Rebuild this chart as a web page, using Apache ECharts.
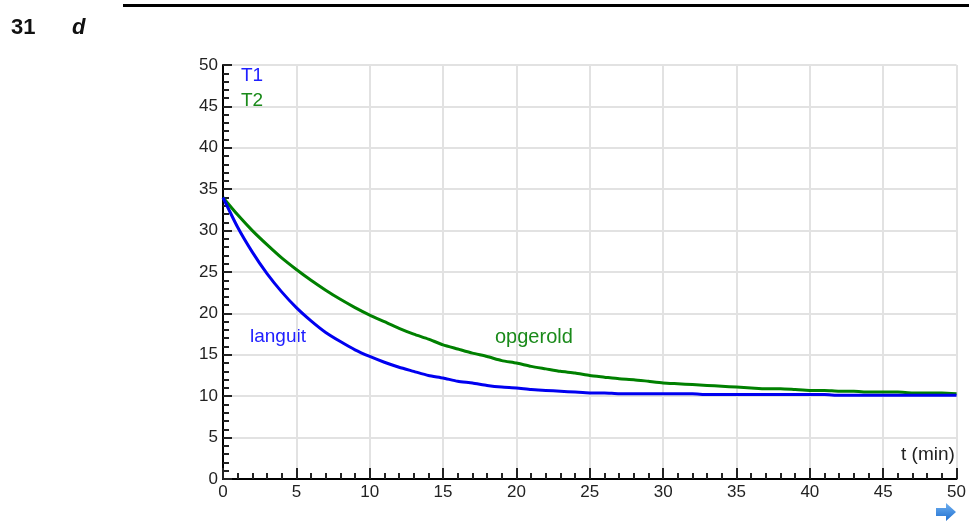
<!DOCTYPE html>
<html>
<head>
<meta charset="utf-8">
<script src="https://cdn.jsdelivr.net/npm/echarts@6/dist/echarts.min.js"></script>
<style>html,body{margin:0;padding:0;background:#fff;}#c{width:969px;height:521px;}</style>
</head>
<body>
<div id="c"></div>
<script>
// time in minutes
var times = [0,1,2,3,4,5,6,7,8,9,10,11,12,13,14,15,16,17,18,19,20,21,22,23,24,25,26,27,28,29,30,31,32,33,34,35,36,37,38,39,40,41,42,43,44,45,46,47,48,49,50];
// T1 (languit)
var t1 = [34.0,30.4,27.4,24.8,22.6,20.7,19.1,17.7,16.6,15.6,14.8,14.1,13.5,13.0,12.5,12.2,11.8,11.6,11.3,11.1,11.0,10.8,10.7,10.6,10.5,10.4,10.4,10.3,10.3,10.3,10.3,10.3,10.3,10.2,10.2,10.2,10.2,10.2,10.2,10.2,10.2,10.2,10.1,10.1,10.1,10.1,10.1,10.1,10.1,10.1,10.1];
// T2 (opgerold)
var t2 = [34.0,31.9,30.0,28.3,26.7,25.3,24.0,22.8,21.7,20.7,19.8,19.0,18.2,17.5,16.9,16.2,15.7,15.2,14.8,14.3,14.0,13.6,13.3,13.0,12.8,12.5,12.3,12.1,12.0,11.8,11.6,11.5,11.4,11.3,11.2,11.1,11.0,10.9,10.9,10.8,10.7,10.7,10.6,10.6,10.5,10.5,10.5,10.4,10.4,10.4,10.3];
var yTicks = [0,5,10,15,20,25,30,35,40,45,50];
var xTicks = [0,5,10,15,20,25,30,35,40,45,50];

function pairs(v){ return times.map(function(t,i){ return [t, v[i]]; }); }

var chart = echarts.init(document.getElementById('c'));
var font = '"Liberation Sans", Arial, sans-serif';
function txt(x, y, s, size, color, extra){
  return {type: 'text', x: x, y: y, style: {text: s, font: (extra||'') + size + 'px ' + font, fill: color, verticalAlign: 'middle', align: 'left'}};
}
chart.setOption({
  animation: false,
  grid: {left: 223, right: 11, top: 65, bottom: 42, containLabel: false},
  xAxis: {
    type: 'value', min: xTicks[0], max: xTicks[xTicks.length-1], interval: 5,
    axisLine: {show: true, onZero: false, lineStyle: {color: '#000', width: 2}},
    axisTick: {show: true, inside: true, length: 11, lineStyle: {color: '#222', width: 2}},
    minorTick: {show: true, splitNumber: 5, length: 6, lineStyle: {color: '#222', width: 2}},
    axisLabel: {color: '#222', fontSize: 17, fontFamily: font, margin: 5},
    splitLine: {show: true, lineStyle: {color: '#e2e2e2', width: 2}}
  },
  yAxis: {
    type: 'value', min: yTicks[0], max: yTicks[yTicks.length-1], interval: 5,
    axisLine: {show: true, onZero: false, lineStyle: {color: '#000', width: 2}},
    axisTick: {show: true, inside: true, length: 9, lineStyle: {color: '#222', width: 2}},
    minorTick: {show: true, splitNumber: 5, length: 6, lineStyle: {color: '#222', width: 2}},
    axisLabel: {color: '#222', fontSize: 17, fontFamily: font, margin: 5},
    splitLine: {show: true, lineStyle: {color: '#e2e2e2', width: 2}}
  },
  series: [
    {type: 'line', name: 'T1', data: pairs(t1), showSymbol: false, smooth: 0.2,
     lineStyle: {color: '#0000f0', width: 3}, itemStyle: {color: '#0000f0'}, z: 3},
    {type: 'line', name: 'T2', data: pairs(t2), showSymbol: false, smooth: 0.2,
     lineStyle: {color: '#008000', width: 3}, itemStyle: {color: '#008000'}, z: 2}
  ],
  graphic: [
    {type: 'rect', shape: {x: 123, y: 4, width: 846, height: 3}, style: {fill: '#000'}},
    txt(11, 28, '31', 22, '#111', 'bold '),
    txt(72, 28, 'd', 22, '#111', 'italic bold '),
    txt(241, 76, 'T1', 19, '#2020ff'),
    txt(241, 101, 'T2', 19, '#1a8a1a'),
    txt(250, 337, 'languit', 19, '#2020ff'),
    txt(495, 337, 'opgerold', 20, '#1a8a1a'),
    txt(901, 455, 't (min)', 19, '#222'),
    {type: 'polygon', shape: {points: [[936,508],[946,508],[946,503],[956,512],[946,521],[946,516],[936,516]]},
     style: {fill: {type: 'linear', x: 0, y: 0, x2: 0, y2: 1, colorStops: [{offset: 0, color: '#6fb0f0'}, {offset: 1, color: '#1f6fd0'}]}}}
  ]
});
</script>
</body>
</html>
